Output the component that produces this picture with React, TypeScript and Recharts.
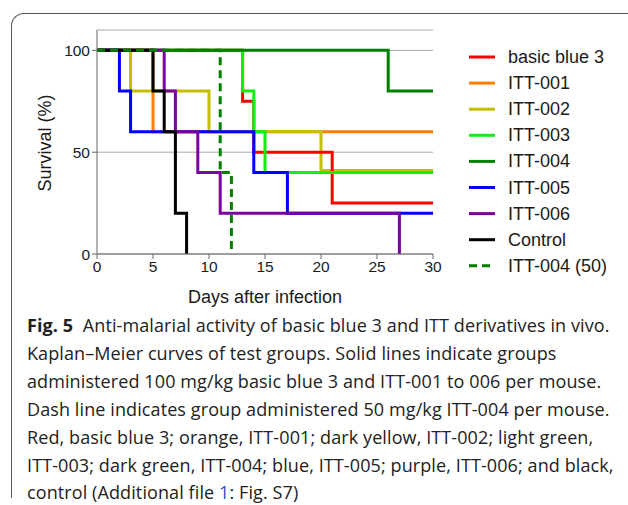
import React from 'react'
import { LineChart, Line, XAxis, YAxis, CartesianGrid, Label } from 'recharts'

// Kaplan–Meier survival steps (day, survival %)
const basicBlue3 = [
  { day: 0, s: 100 }, { day: 13, s: 75 }, { day: 14, s: 50 }, { day: 21, s: 25 }, { day: 30, s: 25 },
]
const itt001 = [
  { day: 0, s: 100 }, { day: 5, s: 60 }, { day: 30, s: 60 },
]
const itt002 = [
  { day: 0, s: 100 }, { day: 3, s: 80 }, { day: 10, s: 60 }, { day: 20, s: 41 }, { day: 30, s: 41 },
]
const itt003 = [
  { day: 0, s: 100 }, { day: 13, s: 80 }, { day: 14, s: 60 }, { day: 15, s: 40 }, { day: 30, s: 40 },
]
const itt004 = [
  { day: 0, s: 100 }, { day: 26, s: 80 }, { day: 30, s: 80 },
]
const itt005 = [
  { day: 0, s: 100 }, { day: 2, s: 80 }, { day: 3, s: 60 }, { day: 14, s: 40 }, { day: 17, s: 20 }, { day: 30, s: 20 },
]
const itt006 = [
  { day: 0, s: 100 }, { day: 6, s: 80 }, { day: 7, s: 60 }, { day: 9, s: 40 }, { day: 11, s: 20 }, { day: 27, s: 0 },
]
const control = [
  { day: 0, s: 100 }, { day: 5, s: 80 }, { day: 6, s: 60 }, { day: 7, s: 20 }, { day: 8, s: 0 },
]
const itt004Half = [
  { day: 0, s: 100 }, { day: 11, s: 40 }, { day: 12, s: 0 },
]

const dayTicks = [0, 5, 10, 15, 20, 25, 30]
const survivalTicks = [0, 50, 100]

// legend order
const series = [
  { name: 'basic blue 3', color: '#ff0000', data: basicBlue3, dashed: false },
  { name: 'ITT-001', color: '#ff8000', data: itt001, dashed: false },
  { name: 'ITT-002', color: '#c4bf00', data: itt002, dashed: false },
  { name: 'ITT-003', color: '#11ee11', data: itt003, dashed: false },
  { name: 'ITT-004', color: '#008000', data: itt004, dashed: false },
  { name: 'ITT-005', color: '#0000ff', data: itt005, dashed: false },
  { name: 'ITT-006', color: '#7a00a0', data: itt006, dashed: false },
  { name: 'Control', color: '#000000', data: control, dashed: false },
  { name: 'ITT-004 (50)', color: '#008000', data: itt004Half, dashed: true },
]

// drawing order, bottom to top
const drawOrder = ['ITT-001', 'ITT-002', 'basic blue 3', 'ITT-003', 'ITT-004', 'ITT-005', 'ITT-006', 'Control', 'ITT-004 (50)']

const captionLines = [
  'Anti-malarial activity of basic blue 3 and ITT derivatives in vivo.',
  'Kaplan–Meier curves of test groups. Solid lines indicate groups',
  'administered 100 mg/kg basic blue 3 and ITT-001 to 006 per mouse.',
  'Dash line indicates group administered 50 mg/kg ITT-004 per mouse.',
  'Red, basic blue 3; orange, ITT-001; dark yellow, ITT-002; light green,',
  'ITT-003; dark green, ITT-004; blue, ITT-005; purple, ITT-006; and black,',
]

const font = '"Liberation Sans", Arial, sans-serif'

const ChartLegend = () => (
  <svg width={160} height={240} style={{ position: 'absolute', left: 465, top: 45 }}>
    {series.map((s, i) => {
      const y = 12 + i * 26.1
      return (
        <g key={s.name}>
          <line x1={4} x2={30} y1={y} y2={y} stroke={s.color} strokeWidth={3}
            strokeDasharray={s.dashed ? '8 5' : undefined} />
          <text x={43} y={y} dominantBaseline="central" fontSize={18} fill="#1a1a1a" fontFamily={font}>
            {s.name}
          </text>
        </g>
      )
    })}
  </svg>
)

const App: React.FC = () => {
  return (
    <div style={{ position: 'absolute', left: 0, top: 0, width: 628, height: 505, background: '#fff', overflow: 'hidden' }}>
      <div
        style={{
          position: 'absolute', left: 11, top: 13, width: 640, height: 484,
          borderTop: '1.5px solid #555', borderLeft: '1.5px solid #555', borderTopLeftRadius: 13,
        }}
      />
      <div style={{ position: 'absolute', left: 0, top: 0 }}>
        <LineChart width={628} height={310} margin={{ top: 30, right: 195, bottom: 26, left: 57 }}>
          <CartesianGrid vertical={false} stroke="#aaaaaa" strokeWidth={1} />
          <XAxis
            dataKey="day" type="number" domain={[0, 30]} ticks={dayTicks} allowDuplicatedCategory={false}
            height={30} stroke="#666" tickSize={5} tick={{ fill: '#1a1a1a', fontSize: 15.5, fontFamily: font }}
          >
            <Label
              content={() => (
                <text x={265} y={297} textAnchor="middle" dominantBaseline="central" fontSize={18} fill="#1a1a1a" fontFamily={font}>
                  Days after infection
                </text>
              )}
            />
          </XAxis>
          <YAxis
            type="number" domain={[0, 110]} ticks={survivalTicks} width={40}
            stroke="#666" tickSize={5} tick={{ fill: '#1a1a1a', fontSize: 15.5, fontFamily: font }}
          >
            <Label
              content={() => (
                <text x={45} y={143} transform="rotate(-90 45 143)" textAnchor="middle" dominantBaseline="central"
                  fontSize={18} fill="#1a1a1a" fontFamily={font}>
                  Survival (%)
                </text>
              )}
            />
          </YAxis>
          {drawOrder.map((n) => {
            const s = series.find((x) => x.name === n)!
            return (
              <Line
                key={s.name} name={s.name} data={s.data} dataKey="s" type="stepAfter"
                stroke={s.color} strokeWidth={3} strokeDasharray={s.dashed ? '8 5' : undefined}
                dot={false} activeDot={false} isAnimationActive={false}
              />
            )
          })}
        </LineChart>
      </div>
      <ChartLegend />
      <div
        style={{
          position: 'absolute', left: 27, top: 312, fontFamily: '"Open Sans", sans-serif', whiteSpace: 'nowrap',
          fontSize: 18, lineHeight: '27.9px', color: '#222', letterSpacing: 0.1,
        }}
      >
        <div><b>Fig. 5</b>&nbsp; {captionLines[0]}</div>
        {captionLines.slice(1).map((l) => <div key={l}>{l}</div>)}
        <div>control (Additional file <span style={{ color: '#2a52be' }}>1</span>: Fig. S7)</div>
      </div>
    </div>
  )
}

export default App
